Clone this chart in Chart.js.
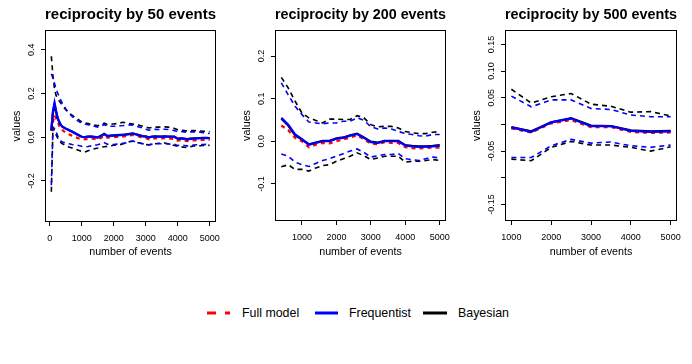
<!DOCTYPE html>
<html><head><meta charset="utf-8">
<script src="https://cdn.jsdelivr.net/npm/chart.js@4.4.1/dist/chart.umd.min.js"></script>
<style>
html,body{margin:0;padding:0;background:#fff;}
body{width:692px;height:364px;position:relative;overflow:hidden;font-family:'Liberation Sans',Arial,Helvetica,sans-serif;}
canvas.panel{position:absolute;top:0;}
.lgtext{position:absolute;top:304px;height:18px;line-height:18px;font-size:12.4px;color:#000;white-space:nowrap;}
</style></head><body>
<canvas class="panel" id="c1" width="230" height="270" style="left:0px"></canvas>
<canvas class="panel" id="c2" width="230" height="270" style="left:230px"></canvas>
<canvas class="panel" id="c3" width="230" height="270" style="left:460px"></canvas>
<svg width="692" height="20" style="position:absolute;left:0;top:303px">
  <line x1="207" y1="10" x2="230" y2="10" stroke="#ff0000" stroke-width="3" stroke-dasharray="9 9"/>
  <line x1="315" y1="10" x2="338" y2="10" stroke="#0000ff" stroke-width="3"/>
  <line x1="423" y1="10" x2="447" y2="10" stroke="#000000" stroke-width="3"/>
</svg>
<span class="lgtext" id="lg0" style="left:242px"></span>
<span class="lgtext" id="lg1" style="left:349px"></span>
<span class="lgtext" id="lg2" style="left:458px"></span>
<script>
// ---------- text ----------
const titles = ['reciprocity by 50 events', 'reciprocity by 200 events', 'reciprocity by 500 events'];
const xAxisTitle = 'number of events';
const yAxisTitle = 'values';
const legendLabels = ['Full model', 'Frequentist', 'Bayesian'];

// ---------- panel 1 (by 50 events) ----------
const x1 = [50,100,150,200,250,300,350,400,500,600,700,800,900,1000,1100,1200,1300,1400,1500,1600,1700,1800,1900,2000,2100,2200,2300,2400,2500,2600,2700,2800,2900,3000,3100,3200,3300,3400,3500,3600,3700,3800,3900,4000,4100,4200,4300,4400,4500,4600,4700,4800,4900,5000];
const full1 = [0.03,0.07,0.10,0.085,0.072,0.05,0.04,0.032,0.02,0.013,0.006,0.0,-0.005,-0.009,-0.01,-0.008,-0.006,-0.008,-0.01,-0.004,0.006,-0.002,-0.001,0.0,0.001,0.002,0.003,0.005,0.008,0.01,0.006,0.002,-0.002,-0.004,-0.01,-0.006,-0.005,-0.006,-0.006,-0.005,-0.006,-0.007,-0.008,-0.016,-0.014,-0.016,-0.018,-0.016,-0.015,-0.014,-0.013,-0.012,-0.012,-0.013];
const freq1 = [0.035,0.12,0.158,0.12,0.088,0.07,0.056,0.048,0.04,0.033,0.026,0.018,0.01,0.002,0.0,0.003,0.002,0.0,-0.002,0.005,0.014,0.005,0.006,0.007,0.008,0.009,0.010,0.012,0.014,0.016,0.012,0.008,0.004,0.003,-0.002,0.002,0.003,0.002,0.002,0.003,0.002,0.001,0.001,-0.008,-0.006,-0.008,-0.01,-0.008,-0.007,-0.006,-0.005,-0.004,-0.004,-0.005];
const bayes1 = [0.03,0.11,0.15,0.115,0.085,0.068,0.055,0.047,0.039,0.032,0.025,0.017,0.009,0.002,0.0,0.003,0.002,0.001,-0.001,0.006,0.015,0.006,0.007,0.008,0.009,0.01,0.011,0.013,0.015,0.017,0.013,0.009,0.005,0.004,-0.001,0.003,0.004,0.003,0.003,0.004,0.003,0.002,0.002,-0.007,-0.005,-0.007,-0.009,-0.007,-0.006,-0.005,-0.004,-0.003,-0.003,-0.004];
const freqUp1 = [0.29,0.27,0.245,0.22,0.2,0.185,0.168,0.152,0.13,0.11,0.095,0.082,0.072,0.064,0.06,0.057,0.053,0.05,0.046,0.05,0.058,0.05,0.05,0.05,0.05,0.052,0.053,0.055,0.056,0.055,0.05,0.046,0.042,0.036,0.032,0.035,0.036,0.035,0.036,0.036,0.035,0.032,0.03,0.025,0.026,0.024,0.022,0.024,0.024,0.024,0.023,0.02,0.018,0.017];
const freqLo1 = [-0.22,0.04,0.04,0.025,0.005,-0.008,-0.018,-0.022,-0.027,-0.03,-0.034,-0.036,-0.038,-0.042,-0.044,-0.043,-0.04,-0.037,-0.035,-0.03,-0.025,-0.032,-0.033,-0.034,-0.032,-0.03,-0.028,-0.026,-0.022,-0.018,-0.022,-0.026,-0.03,-0.032,-0.036,-0.032,-0.03,-0.03,-0.03,-0.03,-0.031,-0.032,-0.033,-0.038,-0.037,-0.038,-0.04,-0.038,-0.036,-0.035,-0.034,-0.034,-0.033,-0.034];
const bayesUp1 = [0.37,0.28,0.22,0.19,0.175,0.165,0.155,0.145,0.125,0.112,0.1,0.09,0.08,0.07,0.065,0.062,0.058,0.055,0.052,0.056,0.064,0.058,0.06,0.06,0.062,0.065,0.068,0.064,0.062,0.06,0.058,0.054,0.05,0.046,0.042,0.045,0.046,0.046,0.047,0.047,0.046,0.044,0.04,0.034,0.032,0.03,0.028,0.03,0.03,0.029,0.028,0.027,0.026,0.025];
const bayesLo1 = [-0.25,0.045,0.03,0.01,-0.005,-0.018,-0.025,-0.03,-0.038,-0.045,-0.05,-0.055,-0.06,-0.066,-0.068,-0.062,-0.057,-0.053,-0.05,-0.046,-0.044,-0.042,-0.04,-0.037,-0.035,-0.034,-0.03,-0.025,-0.02,-0.018,-0.022,-0.027,-0.03,-0.034,-0.035,-0.032,-0.03,-0.028,-0.027,-0.027,-0.03,-0.034,-0.038,-0.042,-0.044,-0.046,-0.048,-0.044,-0.04,-0.04,-0.039,-0.038,-0.038,-0.037];
const xTicks1 = [0,1000,2000,3000,4000,5000];
const xTickLabels1 = ['0','1000','2000','3000','4000','5000'];
const yTicks1 = [-0.2,0.0,0.2,0.4];
const yTickLabels1 = ['-0.2','0.0','0.2','0.4'];

// ---------- panel 2 (by 200 events) ----------
const x2 = [400,600,800,1000,1200,1400,1600,1800,2000,2200,2400,2600,2800,3000,3200,3400,3600,3800,4000,4200,4400,4600,4800,5000];
const full2 = [0.037,0.026,0.008,0.0,-0.014,-0.008,-0.004,-0.005,0.0,0.004,0.009,0.014,0.005,-0.006,-0.007,-0.002,-0.004,-0.004,-0.014,-0.016,-0.017,-0.016,-0.015,-0.015];
const freq2 = [0.055,0.039,0.016,0.005,-0.008,-0.004,0.0,0.0,0.006,0.008,0.013,0.017,0.008,-0.002,-0.004,0.0,0.0,0.0,-0.010,-0.012,-0.013,-0.0125,-0.012,-0.010];
const bayes2 = [0.053,0.037,0.014,0.004,-0.007,-0.003,0.001,0.001,0.007,0.009,0.014,0.018,0.009,-0.001,-0.003,0.001,0.001,0.001,-0.009,-0.011,-0.012,-0.012,-0.011,-0.009];
const freqUp2 = [0.137,0.109,0.082,0.0625,0.045,0.043,0.041,0.043,0.043,0.047,0.047,0.055,0.049,0.034,0.029,0.031,0.029,0.023,0.018,0.016,0.013,0.012,0.016,0.016];
const freqLo2 = [-0.030,-0.035,-0.049,-0.055,-0.059,-0.052,-0.045,-0.041,-0.035,-0.029,-0.023,-0.018,-0.026,-0.037,-0.034,-0.031,-0.031,-0.029,-0.041,-0.043,-0.045,-0.041,-0.037,-0.039];
const bayesUp2 = [0.15,0.125,0.094,0.066,0.055,0.049,0.043,0.052,0.052,0.051,0.051,0.060,0.055,0.039,0.034,0.035,0.035,0.031,0.023,0.020,0.018,0.018,0.021,0.023];
const bayesLo2 = [-0.060,-0.055,-0.066,-0.066,-0.070,-0.0625,-0.057,-0.055,-0.047,-0.041,-0.035,-0.027,-0.034,-0.043,-0.039,-0.035,-0.035,-0.035,-0.049,-0.047,-0.047,-0.045,-0.043,-0.045];
const xTicks2 = [1000,2000,3000,4000,5000];
const xTickLabels2 = ['1000','2000','3000','4000','5000'];
const yTicks2 = [-0.1,0.0,0.1,0.2];
const yTickLabels2 = ['-0.1','0.0','0.1','0.2'];

// ---------- panel 3 (by 500 events) ----------
const x3 = [1000,1500,2000,2500,3000,3500,4000,4500,5000];
const full3 = [-0.0075,-0.015,0.002,0.008,-0.005,-0.005,-0.014,-0.016,-0.015];
const freq3 = [-0.0055,-0.014,0.004,0.011,-0.003,-0.003,-0.012,-0.014,-0.013];
const bayes3 = [-0.005,-0.013,0.004,0.012,-0.002,-0.003,-0.011,-0.013,-0.012];
const freqUp3 = [0.053,0.033,0.046,0.046,0.030,0.028,0.0176,0.0145,0.0145];
const freqLo3 = [-0.062,-0.062,-0.040,-0.028,-0.035,-0.033,-0.040,-0.043,-0.0386];
const bayesUp3 = [0.066,0.040,0.052,0.058,0.038,0.034,0.023,0.024,0.016];
const bayesLo3 = [-0.065,-0.068,-0.043,-0.032,-0.0386,-0.0386,-0.043,-0.050,-0.042];
const xTicks3 = [1000,2000,3000,4000,5000];
const xTickLabels3 = ['1000','2000','3000','4000','5000'];
const yTicks3 = [-0.15,-0.10,-0.05,0.00,0.05,0.10,0.15];
const yTickLabels3 = ['-0.15','','-0.05','','0.05','0.10','0.15'];

// ---------- styling ----------
const FONT = "'Liberation Sans', Arial, Helvetica, sans-serif";
const TICK_SIZE = 9;
const AXIS_TITLE_SIZE = 10.7;
const TITLE_SIZE = 15.5;
Chart.defaults.font.family = FONT;
Chart.defaults.color = '#000';

document.getElementById('lg0').textContent = legendLabels[0];
document.getElementById('lg1').textContent = legendLabels[1];
document.getElementById('lg2').textContent = legendLabels[2];

const boxPlugin = {
  id: 'plotBox',
  afterDraw(chart) {
    const {ctx, chartArea: a} = chart;
    ctx.save();
    ctx.strokeStyle = '#000';
    ctx.lineWidth = 1;
    ctx.strokeRect(a.left + 0.5, a.top + 0.5, a.right - a.left - 1, a.bottom - a.top - 1);
    ctx.restore();
  }
};

const measure = document.createElement('canvas').getContext('2d');
function widest(labels) {
  measure.font = TICK_SIZE + 'px ' + FONT;
  return Math.max(...labels.map(l => measure.measureText(l).width));
}

function makePanel(id, cfg) {
  const pts = arr => cfg.x.map((x, i) => ({x: x, y: arr[i]}));
  const line = (label, arr, color, width, dash) => ({
    label: label, data: pts(arr), borderColor: color, borderWidth: width,
    borderDash: dash, pointRadius: 0, tension: 0, fill: false
  });
  const datasets = [
    line(legendLabels[1], cfg.freq, '#0000ff', 2.2, []),
    line(legendLabels[2], cfg.bayes, '#000000', 2.2, []),
    line(legendLabels[0], cfg.full, '#ff0000', 2.2, [4, 4]),
    line('Frequentist upper', cfg.freqUp, '#0000ff', 1.6, [5, 4]),
    line('Frequentist lower', cfg.freqLo, '#0000ff', 1.6, [5, 4]),
    line('Bayesian upper', cfg.bayesUp, '#000000', 1.6, [5, 4]),
    line('Bayesian lower', cfg.bayesLo, '#000000', 1.6, [5, 4])
  ];
  const yPad = 45 - 31.7 - 4 - widest(cfg.yLabels) / 2;
  new Chart(document.getElementById(id), {
    type: 'line',
    data: {datasets: datasets},
    options: {
      responsive: false, animation: false, devicePixelRatio: 1,
      layout: {padding: {left: 0, top: 0, bottom: 0, right: cfg.padRight}},
      plugins: {
        legend: {display: false}, tooltip: {enabled: false},
        title: {display: true, text: cfg.title, fullSize: false, color: '#000',
                font: {size: TITLE_SIZE, weight: 'bold', family: FONT, lineHeight: 1.2},
                padding: {top: 5.7, bottom: 5.7}}
      },
      scales: {
        x: {
          type: 'linear', min: cfg.xMin, max: cfg.xMax,
          afterBuildTicks: s => { s.ticks = cfg.xTicks.map(v => ({value: v})); },
          afterFit: s => { s.height = cfg.xHeight; },
          ticks: {autoSkip: false, minRotation: 0, maxRotation: 0, padding: 6.9,
                  font: {size: TICK_SIZE}, color: '#000',
                  callback: (v, i) => cfg.xLabels[i]},
          grid: {drawOnChartArea: false, drawTicks: true, tickLength: 4, color: '#000', tickColor: '#000', tickWidth: 1},
          border: {display: false},
          title: {display: true, text: xAxisTitle, color: '#000',
                  font: {size: AXIS_TITLE_SIZE, lineHeight: 1.2}, padding: {top: 0, bottom: 11.9}}
        },
        y: {
          type: 'linear', min: cfg.yMin, max: cfg.yMax,
          afterBuildTicks: s => { s.ticks = cfg.yTicks.map(v => ({value: v})); },
          afterFit: s => { s.width = 45; },
          ticks: {autoSkip: false, minRotation: 90, maxRotation: 90, crossAlign: 'center',
                  padding: yPad, font: {size: TICK_SIZE}, color: '#000',
                  callback: (v, i) => cfg.yLabels[i]},
          grid: {drawOnChartArea: false, drawTicks: true, tickLength: 4, color: '#000', tickColor: '#000', tickWidth: 1},
          border: {display: false},
          title: {display: true, text: yAxisTitle, color: '#000',
                  font: {size: AXIS_TITLE_SIZE, lineHeight: 1.2}, padding: {top: 10.3, bottom: 0}}
        }
      }
    },
    plugins: [boxPlugin]
  });
}

makePanel('c1', {x: x1, full: full1, freq: freq1, bayes: bayes1, freqUp: freqUp1, freqLo: freqLo1,
  bayesUp: bayesUp1, bayesLo: bayesLo1, xTicks: xTicks1, xLabels: xTickLabels1, yTicks: yTicks1,
  yLabels: yTickLabels1, title: titles[0], xMin: -148, xMax: 5198, yMin: -0.388, yMax: 0.49,
  padRight: 14, xHeight: 48});
makePanel('c2', {x: x2, full: full2, freq: freq2, bayes: bayes2, freqUp: freqUp2, freqLo: freqLo2,
  bayesUp: bayesUp2, bayesLo: bayesLo2, xTicks: xTicks2, xLabels: xTickLabels2, yTicks: yTicks2,
  yLabels: yTickLabels2, title: titles[1], xMin: 216, xMax: 5184, yMin: -0.187, yMax: 0.261,
  padRight: 14, xHeight: 49});
makePanel('c3', {x: x3, full: full3, freq: freq3, bayes: bayes3, freqUp: freqUp3, freqLo: freqLo3,
  bayesUp: bayesUp3, bayesLo: bayesLo3, xTicks: xTicks3, xLabels: xTickLabels3, yTicks: yTicks3,
  yLabels: yTickLabels3, title: titles[2], xMin: 840, xMax: 5160, yMin: -0.181, yMax: 0.177,
  padRight: 13, xHeight: 49});
</script>
</body></html>
